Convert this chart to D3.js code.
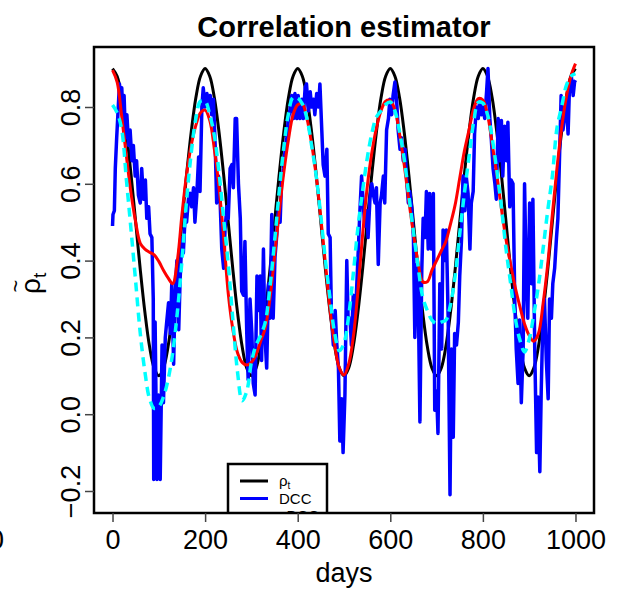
<!DOCTYPE html>
<meta charset="utf-8">
<head>
  <script src="https://d3js.org/d3.v7.min.js"></script>
  <style>
    body { margin: 0; background: #fff; }
    text { font-family: "Liberation Sans", Arial, Helvetica, sans-serif; }
  </style>
</head>
<body>
<svg width="623" height="589"></svg>
<script>
// true correlation rho_t, sampled every 10 days
var rhoTrue = [0.9,0.88,0.824,0.735,0.624,0.5,0.376,0.265,0.176,0.12,0.1,0.12,0.176,0.265,0.376,0.5,0.624,0.735,0.824,0.88,
  0.9,0.88,0.824,0.735,0.624,0.5,0.376,0.265,0.176,0.12,0.1,0.12,0.176,0.265,0.376,0.5,0.624,0.735,0.824,0.88,
  0.9,0.88,0.824,0.735,0.624,0.5,0.376,0.265,0.176,0.12,0.1,0.12,0.176,0.265,0.376,0.5,0.624,0.735,0.824,0.88,
  0.9,0.88,0.824,0.735,0.624,0.5,0.376,0.265,0.176,0.12,0.1,0.12,0.176,0.265,0.376,0.5,0.624,0.735,0.824,0.88,
  0.9,0.88,0.824,0.735,0.624,0.5,0.376,0.265,0.176,0.12,0.1,0.12,0.176,0.265,0.376,0.5,0.624,0.735,0.824,0.88,0.9];

// red smooth estimate, every 10 days
var redEst = [0.896,0.865,0.774,0.672,0.575,0.5,0.445,0.43,0.422,0.415,0.398,0.375,0.355,0.34,0.4,0.52,0.625,0.7,0.752,0.785,
  0.792,0.765,0.69,0.59,0.462,0.314,0.22,0.16,0.135,0.128,0.135,0.155,0.19,0.225,0.3,0.41,0.525,0.63,0.715,0.78,
  0.806,0.808,0.77,0.705,0.62,0.51,0.39,0.27,0.18,0.12,0.102,0.13,0.2,0.32,0.465,0.59,0.68,0.745,0.79,0.815,
  0.817,0.792,0.73,0.65,0.555,0.47,0.395,0.345,0.345,0.375,0.4,0.425,0.45,0.495,0.545,0.615,0.685,0.74,0.795,0.822,
  0.818,0.78,0.705,0.625,0.535,0.455,0.39,0.33,0.28,0.235,0.205,0.19,0.21,0.288,0.39,0.52,0.64,0.745,0.825,0.88,0.913];

// cyan dashed estimate, every 10 days
var cyanEst = [0.805,0.785,0.74,0.61,0.48,0.345,0.21,0.11,0.04,0.015,0.02,0.045,0.09,0.16,0.265,0.4,0.557,0.68,0.77,0.815,
  0.815,0.78,0.725,0.63,0.51,0.39,0.245,0.11,0.035,0.06,0.135,0.18,0.205,0.24,0.33,0.45,0.58,0.695,0.783,0.825,
  0.823,0.808,0.77,0.7,0.62,0.515,0.4,0.3,0.21,0.165,0.185,0.255,0.365,0.485,0.58,0.665,0.731,0.774,0.79,0.807,
  0.813,0.79,0.735,0.665,0.57,0.475,0.385,0.305,0.27,0.245,0.236,0.24,0.245,0.285,0.36,0.47,0.575,0.67,0.76,0.812,
  0.81,0.78,0.72,0.635,0.54,0.43,0.34,0.25,0.193,0.162,0.195,0.26,0.335,0.43,0.53,0.62,0.745,0.8,0.855,0.88,0.887];

// DCC estimate (blue), [day, value]
var dcc = [[0,0.49],[1,0.52],[4,0.53],[6,0.64],[9,0.72],[12,0.79],[15,0.86],[18,0.8],[20,0.85],[23,0.76],[25,0.83],[28,0.72],
  [31,0.78],[35,0.7],[38,0.74],[42,0.66],[45,0.7],[49,0.62],[52,0.66],[56,0.57],[60,0.55],[63,0.64],[67,0.56],[71,0.61],
  [74,0.51],[78,0.54],[81,0.47],[85,0.46],[88,0.3],[89,-0.17],[92,0.24],[96,-0.17],[99,0.05],[103,-0.17],[107,0.18],[110,0.03],
  [114,0.2],[117,0.24],[121,0.29],[125,0.21],[128,0.34],[132,0.13],[135,0.3],[139,0.4],[143,0.22],[146,0.35],[150,0.46],[153,0.42],
  [157,0.52],[160,0.5],[164,0.56],[168,0.575],[171,0.54],[175,0.59],[178,0.5],[182,0.57],[186,0.67],[189,0.58],[193,0.8],[196,0.85],
  [200,0.8],[204,0.835],[207,0.8],[211,0.83],[214,0.78],[218,0.82],[222,0.69],[225,0.55],[229,0.62],[232,0.57],[236,0.43],[240,0.38],
  [243,0.48],[247,0.54],[250,0.51],[254,0.64],[258,0.65],[261,0.59],[265,0.77],[268,0.77],[272,0.6],[276,0.51],[279,0.32],[283,0.31],
  [286,0.45],[290,0.21],[293,0.09],[297,0.3],[301,0.21],[304,0.08],[308,0.05],[312,0.36],[315,0.27],[319,0.36],[322,0.14],[326,0.43],
  [329,0.21],[333,0.12],[337,0.34],[340,0.25],[344,0.52],[347,0.25],[351,0.41],[355,0.47],[358,0.53],[362,0.5],[365,0.6],[369,0.64],
  [373,0.69],[376,0.72],[380,0.77],[383,0.79],[387,0.83],[391,0.77],[394,0.835],[398,0.77],[401,0.83],[405,0.77],[409,0.82],[412,0.77],
  [416,0.85],[419,0.86],[423,0.79],[427,0.84],[430,0.8],[434,0.82],[437,0.78],[441,0.835],[445,0.8],[448,0.86],[452,0.74],[455,0.65],
  [459,0.62],[463,0.69],[466,0.47],[470,0.46],[473,0.25],[477,0.18],[481,0.27],[484,0.19],[488,0.12],[491,-0.07],[495,0.04],[498,-0.1],
  [502,0.05],[506,0.4],[509,0.24],[513,0.25],[516,0.18],[520,0.31],[524,0.25],[527,0.32],[531,0.43],[534,0.52],[538,0.62],[542,0.54],
  [545,0.49],[549,0.53],[552,0.46],[556,0.56],[560,0.6],[563,0.575],[567,0.55],[570,0.59],[574,0.39],[578,0.55],[581,0.57],[585,0.62],
  [588,0.55],[592,0.74],[596,0.77],[599,0.82],[603,0.78],[606,0.83],[610,0.865],[614,0.81],[617,0.74],[621,0.69],[624,0.72],[628,0.66],
  [632,0.69],[635,0.62],[639,0.55],[642,0.58],[646,0.54],[650,0.46],[653,0.2],[657,0.39],[660,0.34],[664,-0.02],[668,0.375],[671,0.51],
  [675,0.46],[678,0.58],[682,0.43],[685,0.575],[689,0.43],[693,0.575],[696,0.01],[700,0.06],[703,-0.05],[707,0.34],[711,0.17],[714,0.48],
  [718,0.4],[721,0.48],[725,0.25],[729,-0.21],[732,0.17],[736,-0.06],[739,0.21],[743,0.18],[747,0.24],[750,0.36],[754,0.46],[757,0.62],
  [761,0.53],[764,0.62],[768,0.575],[772,0.43],[775,0.55],[779,0.58],[782,0.73],[786,0.8],[790,0.77],[793,0.82],[797,0.78],[800,0.8],
  [804,0.77],[808,0.84],[811,0.9],[815,0.77],[818,0.72],[822,0.64],[826,0.6],[829,0.56],[833,0.77],[836,0.66],[840,0.765],[843,0.62],
  [847,0.75],[851,0.66],[854,0.76],[858,0.54],[861,0.61],[865,0.6],[869,0.29],[872,0.17],[876,0.08],[879,0.245],[883,0.03],[887,0.17],
  [890,0.6],[894,0.34],[897,0.25],[901,0.55],[905,0.34],[908,0.56],[912,0.17],[916,-0.1],[919,0.045],[923,-0.15],[926,0.06],[930,0.27],
  [933,0.3],[937,0.14],[941,0.04],[944,0.3],[948,0.25],[951,0.34],[955,0.38],[959,0.46],[962,0.51],[966,0.69],[969,0.83],[973,0.74],
  [977,0.78],[980,0.82],[984,0.73],[987,0.85],[991,0.88],[995,0.83],[998,0.865],[1000,0.87]];

var xTicks = [0, 200, 400, 600, 800, 1000];
var yTicks = [-0.2, 0.0, 0.2, 0.4, 0.6, 0.8];
var legendNames = ["ρ", "DCC", "cDCC"];
var legendColors = ["black", "blue", "red"];

var svg = d3.select("svg");
var box = {left: 94, right: 594, top: 47, bottom: 513};

var x = d3.scaleLinear().domain([-40, 1040]).range([box.left, box.right]);
var y = d3.scaleLinear().domain([-0.2, 0.8]).range([491, 107]);
var days10 = d3.range(0, 1001, 10);

svg.append("clipPath").attr("id", "plotclip")
  .append("rect")
  .attr("x", box.left).attr("y", box.top)
  .attr("width", box.right - box.left).attr("height", box.bottom - box.top);

var plot = svg.append("g").attr("clip-path", "url(#plotclip)");

var smooth = d3.line()
  .x(function(d, i) { return x(days10[i]); })
  .y(function(d) { return y(d); })
  .curve(d3.curveCatmullRom);

var raw = d3.line()
  .x(function(d) { return x(d[0]); })
  .y(function(d) { return y(d[1]); });

plot.append("path").attr("d", smooth(rhoTrue))
  .attr("fill", "none").attr("stroke", "black").attr("stroke-width", 3);
plot.append("path").attr("d", raw(dcc))
  .attr("fill", "none").attr("stroke", "blue").attr("stroke-width", 3.5)
  .attr("stroke-linejoin", "round");
plot.append("path").attr("d", smooth(redEst))
  .attr("fill", "none").attr("stroke", "red").attr("stroke-width", 3);
plot.append("path").attr("d", smooth(cyanEst))
  .attr("fill", "none").attr("stroke", "cyan").attr("stroke-width", 3.5)
  .attr("stroke-dasharray", "9,6");

// legend (clipped by the plot region like in R)
var leg = plot.append("g");
leg.append("rect").attr("x", 228).attr("y", 464).attr("width", 99).attr("height", 70)
  .attr("fill", "white").attr("stroke", "black").attr("stroke-width", 2.5);
legendNames.forEach(function(name, i) {
  var ly = 481 + i * 17.5;
  leg.append("line").attr("x1", 240).attr("x2", 268).attr("y1", ly).attr("y2", ly)
    .attr("stroke", legendColors[i]).attr("stroke-width", 3);
  var t = leg.append("text").attr("x", 279).attr("y", ly + 5)
    .attr("font-size", 15).text(name);
  if (i == 0) t.append("tspan").attr("font-size", 10).attr("dy", 3).text("t");
});

// box
svg.append("rect")
  .attr("x", box.left).attr("y", box.top)
  .attr("width", box.right - box.left).attr("height", box.bottom - box.top)
  .attr("fill", "none").attr("stroke", "black").attr("stroke-width", 2.5);

// axes
var xAxis = svg.append("g").attr("transform", "translate(0," + box.bottom + ")")
  .call(d3.axisBottom(x).tickValues(xTicks).tickSize(9).tickFormat(d3.format("d")));
xAxis.select(".domain").remove();
xAxis.selectAll(".tick line").attr("stroke", "#444").attr("stroke-width", 1.5);
xAxis.selectAll(".tick text").attr("font-size", 27).attr("fill", "black")
  .attr("font-family", "Liberation Sans, Arial, sans-serif").attr("dy", 0).attr("y", 36);

var yAxis = svg.append("g").attr("transform", "translate(" + box.left + ",0)")
  .call(d3.axisLeft(y).tickValues(yTicks).tickSize(9).tickFormat(function(d) { return d3.format(".1f")(d).replace("-", "−"); }));
yAxis.select(".domain").remove();
yAxis.selectAll(".tick line").attr("stroke", "#444").attr("stroke-width", 1.5);
yAxis.selectAll(".tick text").attr("font-size", 27).attr("fill", "black")
  .attr("font-family", "Liberation Sans, Arial, sans-serif")
  .attr("x", null).attr("dy", null)
  .attr("text-anchor", "middle")
  .attr("transform", "translate(-14,0) rotate(-90)");

// cut-off tick label of the neighbouring panel
svg.append("text").attr("x", 4).attr("y", box.bottom + 36)
  .attr("text-anchor", "end").attr("font-size", 27).text("1000");

// titles
svg.append("text").attr("x", (box.left + box.right) / 2).attr("y", 37)
  .attr("text-anchor", "middle").attr("font-size", 29).attr("font-weight", "bold")
  .text("Correlation estimator");
svg.append("text").attr("x", (box.left + box.right) / 2).attr("y", 582)
  .attr("text-anchor", "middle").attr("font-size", 27).text("days");

// y label: rho with tilde, subscript t
var ylab = svg.append("g").attr("transform", "translate(40,282) rotate(-90)");
var yl = ylab.append("text").attr("x", -12).attr("font-size", 28);
yl.append("tspan").text("ρ");
yl.append("tspan").attr("font-size", 19).attr("dy", 6).text("t");
ylab.append("text").attr("x", -4).attr("y", -17).attr("text-anchor", "middle")
  .attr("font-size", 22).text("~");
</script>
</body>
